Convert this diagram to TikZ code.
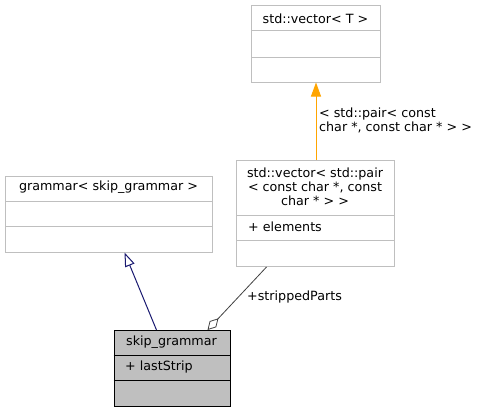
\documentclass[tikz,border=0pt]{standalone}
\usepackage{fontspec}
\setmainfont{DejaVu Sans}
\usetikzlibrary{arrows.meta}

\definecolor{boxgray}{HTML}{BFBFBF}
\definecolor{edgegray}{HTML}{404040}
\definecolor{inhblue}{HTML}{191970}
\definecolor{tplorange}{HTML}{FFA500}

\tikzset{
  classbox/.style={draw=boxgray, fill=white, line width=1pt, anchor=north west, inner sep=0pt},
  curbox/.style={classbox, draw=black, fill=boxgray},
  lbl/.style={font=\fontsize{12.7}{14}\selectfont, inner sep=0pt},
}

\begin{document}
\begin{tikzpicture}[x=1pt,y=-1pt]
\useasboundingbox (0,0) rectangle (481,412);

% std::vector< T >
\node[classbox, minimum width=129pt, minimum height=76pt] (vecT) at (251,5.5) {};
\draw[boxgray, line width=1pt] (251,31) -- (380,31) (251,57) -- (380,57);
\node[lbl] (vecTname) at (315.5,18.5) {std::vector< T >};

% std::vector< std::pair ... >
\node[classbox, minimum width=158pt, minimum height=106pt] (pair) at (236,160) {};
\draw[boxgray, line width=1pt] (236,215) -- (394,215) (236,240.5) -- (394,240.5);
\node[lbl, align=center] (pairname) at (315,187) {std::vector< std::pair\\< const char *, const\\char * > >};
\node[lbl, anchor=west] (elements) at (248,227) {+ elements};

% grammar< skip_grammar >
\node[classbox, minimum width=207pt, minimum height=76pt] (grammar) at (5,175.5) {};
\draw[boxgray, line width=1pt] (5,201) -- (212,201) (5,226) -- (212,226);
\node[lbl] (grammarname) at (108.5,187.5) {grammar< skip\_grammar >};

% skip_grammar
\node[curbox, minimum width=116pt, minimum height=76pt] (skip) at (113.5,330) {};
\draw[black, line width=1pt] (113.5,355) -- (229.5,355) (113.5,380.5) -- (229.5,380.5);
\node[lbl] (skipname) at (171.5,342.5) {skip\_grammar};
\node[lbl, anchor=west] (laststrip) at (125,367) {+ lastStrip};

% connectors
\draw[tplorange, line width=1pt, -{Triangle[length=14pt,width=10pt]}] ([xshift=0.5pt]pair.north) -- ([xshift=0.5pt]pair.north |- vecT.south);
\node[lbl, anchor=west, align=left] (tplargs) at (319,120) {< std::pair< const\\char *, const char * > >};

\draw[inhblue, line width=1pt, -{Triangle[open,length=14pt,width=10pt]}] ([xshift=-15.5pt]skip.north) -- ([xshift=15.5pt]grammar.south);

\draw[edgegray, line width=0.8pt, -{Diamond[open,length=16pt,width=9pt]}] ([xshift=-49pt]pair.south) -- ([xshift=35.5pt]skip.north);
\node[lbl, anchor=west] (aggname) at (247,297) {+strippedParts};
\end{tikzpicture}
\end{document}
